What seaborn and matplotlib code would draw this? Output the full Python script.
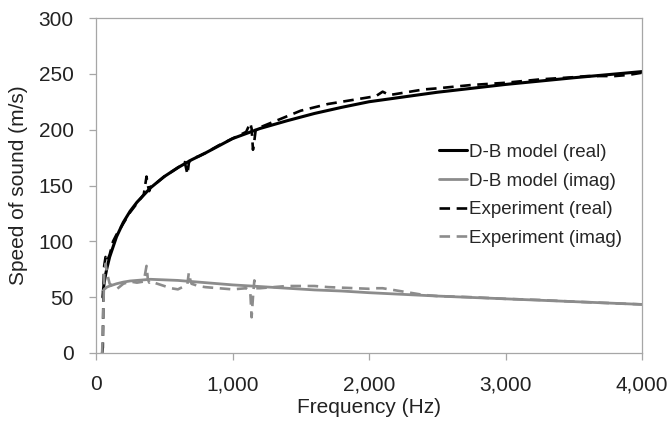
import matplotlib
matplotlib.use("Agg")
import matplotlib.pyplot as plt
import matplotlib.ticker as mticker
import pandas as pd
import seaborn as sns

# D-B model curves
model_freq = [50, 55, 60, 70, 80, 100, 125, 150, 200, 250, 300, 400, 500, 600, 700,
              800, 1000, 1200, 1400, 1600, 1800, 2000, 2500, 3000, 3500, 4000]
model_real = [50, 58, 63, 70, 76, 86, 95, 104, 117, 127, 135, 148, 158, 166, 173,
              179, 192, 201, 208, 214.5, 220, 225, 233.5, 240.5, 246.5, 252]
model_imag = [55, 56, 57, 58, 59, 60, 61, 62, 63.5, 64.5, 65, 66, 65.5, 65, 64,
              63, 61, 59.5, 58, 56.5, 55.5, 54, 51, 48.5, 46, 43.5]

# measured curves
exp_freq = [45, 50, 55, 60, 70, 80, 100, 125, 150, 200, 250, 300, 350, 370, 380, 390,
            400, 450, 500, 550, 600, 650, 670, 680, 690, 700, 750, 800, 900, 1000,
            1100, 1130, 1140, 1150, 1160, 1170, 1200, 1300, 1400, 1500, 1600, 1700,
            1800, 1900, 2000, 2050, 2100, 2150, 2200, 2300, 2400, 2500, 2750, 3000,
            3250, 3500, 3600, 3700, 3800, 3900, 4000]
exp_real = [0, 5, 62, 78, 86, 82, 88, 100, 106, 116, 126, 134, 142, 158, 150, 145,
            149, 153, 158, 162, 166, 171, 160, 170, 173, 174, 176, 179, 186, 192,
            198, 206, 201, 182, 190, 200, 202, 207, 212, 217, 220, 223,
            225, 227, 229, 230, 234, 231, 232, 234, 236, 237, 240, 242,
            245, 247, 248, 248, 248, 249, 251]
exp_imag = [0, 20, 45, 70, 80, 72, 62, 60, 57, 62, 64, 63, 64, 78, 66, 63,
            64, 62, 60, 58, 57, 60, 62, 72, 66, 62, 60, 59, 58, 57,
            58, 55, 32, 50, 65, 58, 58, 59, 60, 60, 60, 59,
            58.5, 58, 57.5, 58, 58, 57, 56, 54, 52, 51, 50, 48.5,
            47.5, 46, 45.5, 45, 44.5, 44, 43.5]

x_ticks = [0, 1000, 2000, 3000, 4000]
y_ticks = [0, 50, 100, 150, 200, 250, 300]


def main():
    sns.set_theme(style="white")
    plt.rcParams['font.family'] = ['Liberation Sans', 'DejaVu Sans']

    model = pd.DataFrame({'freq': model_freq, 'real': model_real, 'imag': model_imag})
    exp = pd.DataFrame({'freq': exp_freq, 'real': exp_real, 'imag': exp_imag})

    fig = plt.figure(figsize=(6.72, 4.32), dpi=100)
    ax = fig.add_axes([96 / 672, 1 - 353 / 432, 546 / 672, 335 / 432])

    sns.lineplot(data=model, x='freq', y='real', ax=ax, color='black', linewidth=2.2,
                 estimator=None, sort=False, label='D-B model (real)')
    sns.lineplot(data=model, x='freq', y='imag', ax=ax, color='#8c8c8c', linewidth=2.0,
                 estimator=None, sort=False, label='D-B model (imag)')
    sns.lineplot(data=exp, x='freq', y='real', ax=ax, color='black', linewidth=1.9,
                 linestyle=(0, (4, 2.5)), estimator=None, sort=False,
                 label='Experiment (real)')
    sns.lineplot(data=exp, x='freq', y='imag', ax=ax, color='#8c8c8c', linewidth=1.9,
                 linestyle=(0, (4, 2.5)), estimator=None, sort=False,
                 label='Experiment (imag)')

    ax.set_xlim(0, 4000)
    ax.set_ylim(0, 300)
    ax.set_xticks(x_ticks)
    ax.set_yticks(y_ticks)
    ax.xaxis.set_major_formatter(mticker.StrMethodFormatter('{x:,.0f}'))

    for side in ['left', 'bottom', 'top', 'right']:
        ax.spines[side].set_color('#a6a6a6')
        ax.spines[side].set_linewidth(0.9)
    ax.tick_params(axis='both', direction='out', length=5, width=0.9,
                   color='#a6a6a6', labelsize=15, labelcolor='#222222', pad=11)
    ax.tick_params(axis='x', bottom=True)
    ax.tick_params(axis='y', left=True)

    ax.set_xlabel('Frequency (Hz)', fontsize=15, color='#222222')
    ax.set_ylabel('Speed of sound (m/s)', fontsize=15, color='#222222')
    ax.xaxis.set_label_coords(0.5, -0.134)
    ax.yaxis.set_label_coords(-0.125, 0.5)

    ax.legend(loc='upper left', bbox_to_anchor=(0.628, 0.625), frameon=False,
              fontsize=13.5, handlelength=1.5, handletextpad=0.1, labelspacing=0.62,
              borderpad=0, borderaxespad=0)

    fig.savefig('out.png', dpi=100)
    plt.close(fig)


if __name__ == "__main__":
    main()
